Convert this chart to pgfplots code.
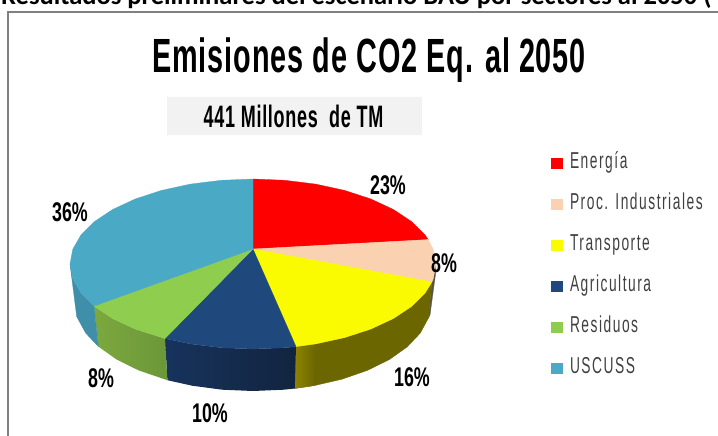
\documentclass[border=0pt]{standalone}
\usepackage{pgfplots}
\pgfplotsset{compat=1.18}
\usepackage{fontspec}
\setmainfont{Liberation Sans}
\newfontfamily\hdr{Carlito}
\newfontfamily\ttl[FakeStretch=0.6,LetterSpace=2.0]{Liberation Sans}
\newfontfamily\sbt[FakeStretch=0.58,LetterSpace=2.3]{Liberation Sans}
\newfontfamily\pct[FakeStretch=0.66]{Liberation Sans}
\newfontfamily\leg[FakeStretch=0.6,LetterSpace=6.6]{Liberation Sans}
\definecolor{cRed}{HTML}{FF0000}
\definecolor{cPeach}{HTML}{FBD2B1}
\definecolor{cYel}{HTML}{FAFA00}
\definecolor{cNavy}{HTML}{1F497D}
\definecolor{cGreen}{HTML}{8FCD4F}
\definecolor{cBlue}{HTML}{4AA9C4}
\definecolor{sYel}{HTML}{6B6600}
\definecolor{sYelL}{HTML}{8C8400}
\definecolor{sNavyL}{HTML}{17335C}
\definecolor{sNavyR}{HTML}{12243F}
\definecolor{sGreenL}{HTML}{7CA83F}
\definecolor{sGreenR}{HTML}{6C9739}
\definecolor{sBlue}{HTML}{3F8FA8}
\definecolor{sDark}{HTML}{5C5244}
\definecolor{frameg}{HTML}{808080}
\definecolor{boxg}{HTML}{F2F2F2}
\definecolor{legt}{HTML}{404040}
\begin{document}
\begin{tikzpicture}[x=1pt,y=1pt]
\useasboundingbox (0,0) rectangle (718pt,436pt);
\clip (0,0) rectangle (718pt,436pt);
\begin{axis}[
  at={(0,0)},anchor=south west,
  width=718pt,height=436pt,scale only axis,
  xmin=0,xmax=718,ymin=0,ymax=436,y dir=reverse,
  axis lines=none,
  clip=false,
  legend style={at={(axis cs:551,154.5)},anchor=north west,draw=none,fill=none,inner sep=0pt,outer sep=0pt,
    font=\leg\fontsize{23}{23}\selectfont,text=legt,row sep=22.9pt,column sep=7pt,
    nodes={text height=14pt,text depth=4pt,inner ysep=0pt,inner xsep=0pt}},
  legend cell align=left,
  legend image code/.code={\fill[#1,draw=none] (0pt,-5.5pt) rectangle (12pt,5.5pt);},
]
% frame and subtitle box
\addplot[forget plot,draw=frameg,line width=2pt] coordinates {(8,436)(8,12.5)(718,12.5)};
\addplot[forget plot,fill=boxg,draw=none] coordinates {(167,97)(422,97)(422,135)(167,135)(167,97)};
% side faces
\addplot[forget plot,fill=sDark,draw=sDark,line width=0.3pt] coordinates {(431.9,282)(433.2,278.8)(436,264)(435.7,273)(430,315)(428.3,318.3)(431.9,282)};
\addplot[forget plot,fill=sYel,draw=sYel,line width=0.3pt] coordinates {(431.9,282)(425.0,293.1)(411.5,306.5)(393.2,318.6)(370.6,329.1)(344.5,337.6)(315.6,343.9)(296.0,346.6)(294.8,388.5)(313.9,385.7)(342,379.2)(367.4,370.4)(389.3,359.6)(407.1,347)(420.3,333.1)(428.3,318.3)(431.9,282)};
\addplot[forget plot,left color=sYelL,right color=sYel,draw=none] coordinates {(296.0,346.6)(315.6,343.9)(313.9,385.7)(294.8,388.5)(296.0,346.6)};
\addplot[forget plot,left color=sNavyL,right color=sNavyR,draw=none] coordinates {(296.0,346.6)(284.8,347.7)(253,349)(221.2,347.7)(190.4,343.9)(165.0,338.5)(167.4,380.2)(192.1,385.7)(222.1,389.7)(253,391)(283.9,389.7)(294.8,388.5)(296.0,346.6)};
\addplot[forget plot,left color=sGreenL,right color=sGreenR,draw=none] coordinates {(165.0,338.5)(135.4,329.1)(112.8,318.6)(94.0,306.1)(98.4,346.6)(116.7,359.6)(138.6,370.4)(167.4,380.2)(165.0,338.5)};
\addplot[forget plot,fill=sBlue,draw=sBlue,line width=0.3pt] coordinates {(94.0,306.1)(81.0,293.1)(72.8,278.8)(70,264)(76.7,316.7)(85.7,333.1)(98.4,346.6)(94.0,306.1)};
% top faces
\addplot[fill=cRed,draw=cRed,line width=0.3pt] coordinates {(253,249)(253,179)(284.8,180.3)(315.6,184.1)(344.5,190.4)(370.6,198.9)(393.2,209.4)(411.5,221.5)(425.0,234.9)(428.3,239.6)(253,249)};
\addlegendentry{Energía}
\addplot[fill=cPeach,draw=cPeach,line width=0.3pt] coordinates {(253,249)(428.3,239.6)(433.2,249.2)(436,264)(433.2,278.8)(431.9,282)(253,249)};
\addlegendentry{Proc. Industriales}
\addplot[fill=cYel,draw=cYel,line width=0.3pt] coordinates {(253,249)(431.9,282)(425.0,293.1)(411.5,306.5)(393.2,318.6)(370.6,329.1)(344.5,337.6)(315.6,343.9)(296.0,346.6)(253,249)};
\addlegendentry{Transporte}
\addplot[fill=cNavy,draw=cNavy,line width=0.3pt] coordinates {(253,249)(296.0,346.6)(284.8,347.7)(253,349)(221.2,347.7)(190.4,343.9)(165.0,338.5)(253,249)};
\addlegendentry{Agricultura}
\addplot[fill=cGreen,draw=cGreen,line width=0.3pt] coordinates {(253,249)(165.0,338.5)(135.4,329.1)(112.8,318.6)(94.0,306.1)(253,249)};
\addlegendentry{Residuos}
\addplot[fill=cBlue,draw=cBlue,line width=0.3pt] coordinates {(253,249)(94.0,306.1)(81.0,293.1)(72.8,278.8)(70,264)(72.8,249.2)(81.0,234.9)(94.5,221.5)(112.8,209.4)(135.4,198.9)(161.5,190.4)(190.4,184.1)(221.2,180.3)(253,179)(253,249)};
\addlegendentry{USCUSS}
% text
\node[anchor=base west,inner sep=0pt] at (axis cs:1,4.5) {\hdr\bfseries\fontsize{26.5}{26.5}\selectfont Resultados preliminares del escenario BAU por sectores al 2050 (};
\node[anchor=base,inner sep=0pt] at (axis cs:369,72.5) {\ttl\bfseries\fontsize{48}{48}\selectfont Emisiones de CO2 Eq. al 2050};
\node[anchor=base,inner sep=0pt] at (axis cs:293.5,127) {\sbt\bfseries\fontsize{31}{31}\selectfont 441 Millones\ \ de TM};
\node[inner sep=0pt] at (axis cs:388,185) {\pct\bfseries\fontsize{27}{27}\selectfont 23\%};
\node[inner sep=0pt] at (axis cs:444,263) {\pct\bfseries\fontsize{27}{27}\selectfont 8\%};
\node[inner sep=0pt] at (axis cs:412,377) {\pct\bfseries\fontsize{27}{27}\selectfont 16\%};
\node[inner sep=0pt] at (axis cs:210,413) {\pct\bfseries\fontsize{27}{27}\selectfont 10\%};
\node[inner sep=0pt] at (axis cs:101,378) {\pct\bfseries\fontsize{27}{27}\selectfont 8\%};
\node[inner sep=0pt] at (axis cs:70,212) {\pct\bfseries\fontsize{27}{27}\selectfont 36\%};
\end{axis}
\end{tikzpicture}
\end{document}
